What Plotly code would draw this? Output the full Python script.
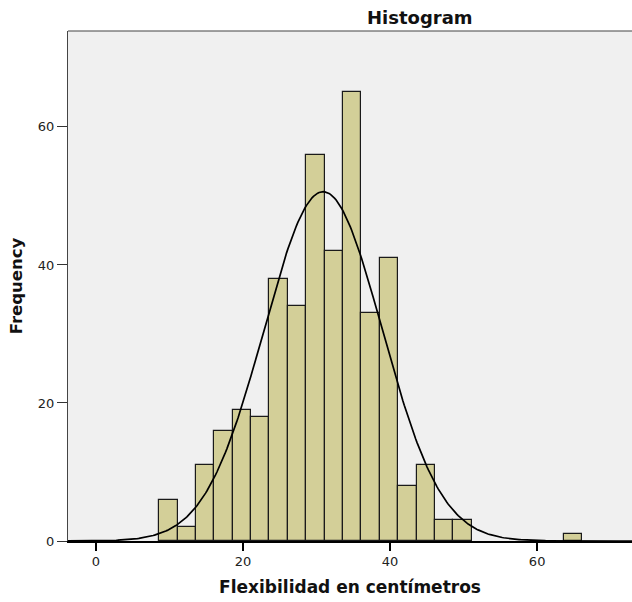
import numpy as np
import plotly.graph_objects as go

# Histogram data (bin width 2.5)
bin_start = 8.6
bin_width = 2.5
counts = [6, 2, 11, 16, 19, 18, 38, 34, 56, 42, 65, 33, 41, 8, 11, 3, 3,
          0, 0, 0, 0, 0, 1]
# Normal curve parameters
mean_val = 30.9
sd_val = 8.02
n_total = sum(counts)

x_ticks = [0, 20, 40, 60]
y_ticks = [0, 20, 40, 60]

centers = [bin_start + bin_width * (i + 0.5) for i in range(len(counts))]
bx = [c for c, v in zip(centers, counts) if v > 0]
by = [v for v in counts if v > 0]

xc = np.linspace(-4, 73, 400)
yc = n_total * bin_width / (sd_val * np.sqrt(2 * np.pi)) * np.exp(-0.5 * ((xc - mean_val) / sd_val) ** 2)

W, H = 632, 602
ML, MT, MR, MB = 68, 31, 0, 61

fig = go.Figure()
fig.add_trace(go.Bar(x=bx, y=by, width=bin_width,
                     marker=dict(color="#D3CF98", line=dict(color="#1a1a1a", width=1.2)),
                     showlegend=False, hoverinfo="skip"))
fig.add_trace(go.Scatter(x=xc, y=yc, mode="lines",
                         line=dict(color="black", width=1.7),
                         showlegend=False, hoverinfo="skip"))

fig.update_layout(
    template="none",
    width=W, height=H,
    margin=dict(l=ML, r=MR, t=MT, b=MB, autoexpand=False),
    paper_bgcolor="white",
    plot_bgcolor="#F0F0F0",
    font=dict(family="DejaVu Sans, sans-serif", color="#222"),
    bargap=0,
)
fig.update_xaxes(
    range=[-3.8, 72.9], tickvals=x_ticks, ticks="outside", ticklen=8,
    tickcolor="black", tickwidth=1.5, automargin=False,
    showgrid=False, zeroline=False,
    showline=True, linecolor="black", linewidth=1.6,
    tickfont=dict(size=13, color="#222"),
    title=dict(text="<b>Flexibilidad en centímetros</b>", font=dict(size=17, color="#111"), standoff=13),
)
fig.update_yaxes(
    range=[0, 73.9], tickvals=y_ticks, ticks="outside", ticklen=10,
    tickcolor="#333", tickwidth=1.2, automargin=False,
    showgrid=False, zeroline=False,
    showline=True, linecolor="#444", linewidth=1.2,
    tickfont=dict(size=13, color="#222"),
    title=dict(text="<b>Frequency</b>", font=dict(size=16.5, color="#111"), standoff=10),
)
# top border of the plot frame
fig.add_shape(type="line", xref="paper", yref="paper", x0=0, x1=1, y0=1, y1=1,
              line=dict(color="#444", width=1.2))
fig.add_annotation(text="<b>Histogram</b>", xref="paper", yref="paper",
                   x=(420 - ML) / (W - ML - MR), y=1, yanchor="bottom", yshift=1,
                   showarrow=False, font=dict(size=18, color="#111"))

fig.write_html(
    "out.html",
    config={"displayModeBar": False},
    post_script="document.body.style.margin='0';document.documentElement.style.overflow='hidden';document.body.style.overflow='hidden';",
)
